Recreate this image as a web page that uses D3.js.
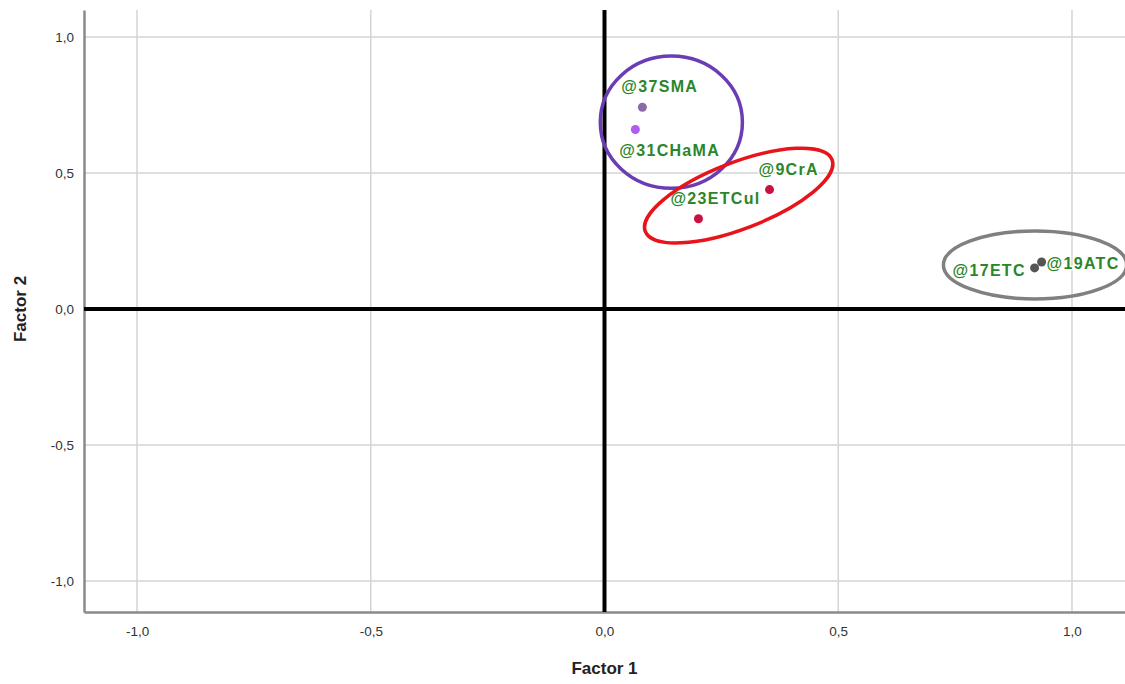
<!DOCTYPE html>
<html><head><meta charset="utf-8">
<script src="https://cdn.jsdelivr.net/npm/d3@7"></script>
<style>body{margin:0;background:#fff}svg{display:block}</style>
</head><body>
<svg id="c" width="1125" height="684"></svg>
<script>
const labels = ["@37SMA","@31CHaMA","@9CrA","@23ETCul","@17ETC","@19ATC"];
const factor1 = [0.081, 0.066, 0.353, 0.201, 0.920, 0.935];
const factor2 = [0.742, 0.660, 0.439, 0.332, 0.151, 0.173];
const pointColors = ["#8c6aa6","#b05cf0","#cc1040","#cc1040","#555555","#555555"];
const xTicks = [-1.0, -0.5, 0.0, 0.5, 1.0];
const yTicks = [-1.0, -0.5, 0.0, 0.5, 1.0];
// groups: center (data units), radii (data units), rotation, colour
const groupCx = [0.143, 0.287, 0.921];
const groupCy = [0.687, 0.417, 0.162];
const groupRx = [0.152, 0.214, 0.196];
const groupRy = [0.243, 0.122, 0.125];
const groupRot = [0, -21, 0];
const groupColors = ["#6a3db4","#e8141a","#808080"];

const svg = d3.select("#c");
const L = 84, R = 1125, T = 10, B = 612;
const x = d3.scaleLinear().domain([-1.1134, 1.1134]).range([L, R]);
const y = d3.scaleLinear().domain([-1.1144, 1.0996]).range([B, T]);
const fmt = d => d.toFixed(1).replace(".", ",");

// grid
svg.append("g").selectAll("line").data(xTicks).join("line")
  .attr("x1", d => x(d)).attr("x2", d => x(d)).attr("y1", T).attr("y2", B)
  .attr("stroke", "#d4d4d4").attr("stroke-width", 1.5);
svg.append("g").selectAll("line").data(yTicks).join("line")
  .attr("x1", L).attr("x2", R).attr("y1", d => y(d)).attr("y2", d => y(d))
  .attr("stroke", "#d4d4d4").attr("stroke-width", 1.5);

// axes
const xa = svg.append("g").attr("transform", `translate(0,${B})`)
  .call(d3.axisBottom(x).tickValues(xTicks).tickFormat(fmt).tickSize(0).tickPadding(14));
const ya = svg.append("g").attr("transform", `translate(${L},0)`)
  .call(d3.axisLeft(y).tickValues(yTicks).tickFormat(fmt).tickSize(0).tickPadding(10));
[xa, ya].forEach(a => {
  a.select(".domain").attr("stroke", "#8a8a8a").attr("stroke-width", 2.5);
  a.selectAll("text").attr("font-family", "Arial, Liberation Sans, sans-serif")
    .attr("font-size", 13.5).attr("fill", "#333");
});

// zero lines
svg.append("line").attr("x1", L).attr("x2", R).attr("y1", y(0)).attr("y2", y(0))
  .attr("stroke", "#000").attr("stroke-width", 4);
svg.append("line").attr("x1", x(0)).attr("x2", x(0)).attr("y1", T).attr("y2", B)
  .attr("stroke", "#000").attr("stroke-width", 4);

// axis titles
svg.append("text").attr("x", x(0)).attr("y", 674).attr("text-anchor", "middle")
  .attr("font-family", "Arial, Liberation Sans, sans-serif").attr("font-weight", "bold")
  .attr("font-size", 17).attr("fill", "#222").text("Factor 1");
svg.append("text").attr("transform", `translate(26,${y(0)}) rotate(-90)`).attr("text-anchor", "middle")
  .attr("font-family", "Arial, Liberation Sans, sans-serif").attr("font-weight", "bold")
  .attr("font-size", 17).attr("fill", "#222").text("Factor 2");

// points
const pts = labels.map((l, i) => ({l, x: factor1[i], y: factor2[i], c: pointColors[i]}));
svg.append("g").selectAll("circle").data(pts).join("circle")
  .attr("cx", d => x(d.x)).attr("cy", d => y(d.y)).attr("r", 4.5)
  .attr("fill", d => d.c);

// labels (offsets in px relative to point)
const dx = [-21, -16, -11, -28, -82, 5];
const dy = [-15, 26, -15, -15, 8, 7];
svg.append("g").selectAll("text").data(pts).join("text")
  .attr("x", (d, i) => x(d.x) + dx[i]).attr("y", (d, i) => y(d.y) + dy[i])
  .attr("font-family", "Arial, Liberation Sans, sans-serif").attr("font-weight", "bold")
  .attr("font-size", 16).attr("letter-spacing", 1.3).attr("fill", "#2a862a")
  .attr("stroke", "#fff").attr("stroke-width", 2.5).attr("paint-order", "stroke")
  .text(d => d.l);

// group ellipses
const groups = groupCx.map((c, i) => ({cx: c, cy: groupCy[i], rx: groupRx[i], ry: groupRy[i], r: groupRot[i], col: groupColors[i]}));
svg.append("g").selectAll("ellipse").data(groups).join("ellipse")
  .attr("transform", d => `translate(${x(d.cx)},${y(d.cy)}) rotate(${d.r})`)
  .attr("rx", d => x(d.rx) - x(0)).attr("ry", d => y(0) - y(d.ry))
  .attr("fill", "none").attr("stroke", d => d.col).attr("stroke-width", 3.5);
</script>
</body></html>
